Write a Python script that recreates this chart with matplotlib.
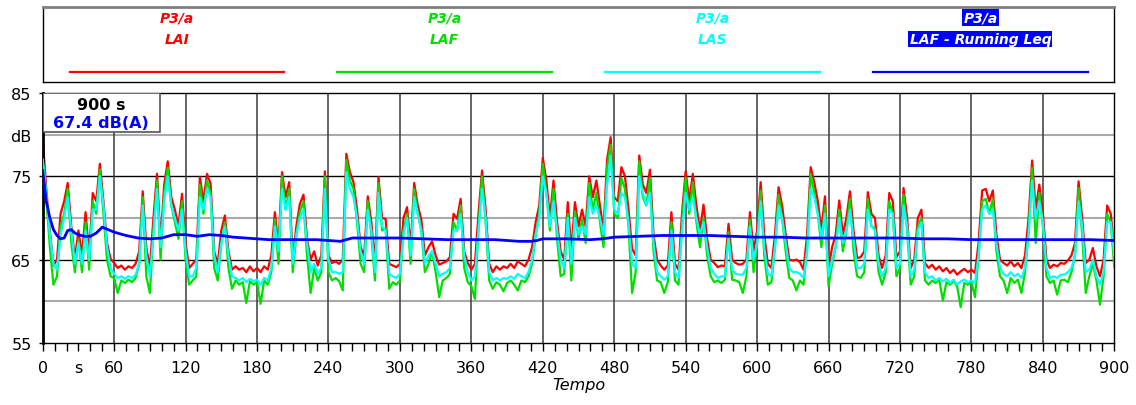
import matplotlib
matplotlib.use("Agg")
import matplotlib.pyplot as plt
import numpy as np
from matplotlib.patches import Rectangle

# --- data (one value every 3 s, 0..900 s) ---
tempo = np.arange(0, 901, 3)

lai = [
    79.5, 73.5, 68.5, 64.3, 65.0, 70.5, 72.0, 74.2, 69.0, 65.1,
    68.5, 65.5, 70.7, 65.5, 73.0, 72.0, 76.5, 72.0, 67.0, 65.1,
    64.6, 64.0, 64.3, 63.8, 64.2, 64.0, 64.5, 66.0, 73.2, 66.5,
    64.0, 70.0, 75.3, 67.0, 74.0, 76.8, 72.5, 71.0, 69.0, 72.9,
    67.0, 64.0, 64.5, 65.0, 74.9, 72.0, 75.3, 74.1, 66.0, 64.5,
    68.5, 70.3, 66.0, 63.8, 64.2, 63.8, 64.0, 63.5, 64.2, 63.6,
    64.0, 63.5, 64.2, 63.8, 65.5, 70.7, 66.5, 75.5, 72.5, 74.3,
    65.0, 69.0, 71.7, 72.8, 67.5, 65.0, 66.0, 64.3, 65.5, 75.6,
    65.5, 64.6, 64.8, 64.5, 65.0, 77.7, 75.5, 74.3, 71.0, 66.5,
    65.5, 72.6, 69.5, 64.6, 74.9, 70.0, 69.9, 64.5, 64.3, 64.1,
    64.5, 70.0, 71.3, 66.5, 74.2, 71.5, 69.8, 65.5, 66.5, 67.2,
    65.5, 64.4, 64.6, 64.8, 65.3, 70.5, 69.9, 72.3, 66.0, 64.6,
    63.8, 64.5, 70.5, 75.7, 71.0, 64.5, 63.5, 64.2, 63.8, 64.2,
    64.0, 64.5, 64.0, 64.8, 64.5, 64.2, 65.0, 66.5, 69.5, 71.5,
    77.2, 74.5, 70.0, 74.5, 69.5, 66.0, 65.0, 71.9, 66.0, 71.9,
    69.0, 71.0, 69.0, 75.0, 72.5, 74.5, 71.5, 68.5, 77.0, 79.7,
    72.5, 72.0, 76.1, 75.0, 71.0, 66.3, 65.5, 77.5, 74.0, 73.0,
    75.8, 68.0, 65.0, 64.3, 63.8, 64.3, 70.7, 64.5, 63.8, 70.7,
    75.6, 72.0, 75.3, 71.5, 68.5, 71.6, 67.5, 65.0, 64.6, 64.1,
    64.3, 64.2, 69.3, 65.0, 64.6, 64.4, 64.5, 65.0, 70.7, 66.0,
    68.5, 74.3, 68.0, 64.5, 64.0, 68.0, 73.7, 71.5, 68.0, 65.0,
    64.9, 65.0, 64.7, 63.8, 68.0, 76.1, 74.3, 72.0, 68.5, 72.6,
    64.0, 66.5, 68.0, 72.1, 68.0, 70.0, 73.2, 68.5, 65.2, 65.3,
    66.0, 73.1, 70.5, 70.0, 65.5, 64.0, 65.5, 73.0, 72.0, 65.3,
    66.0, 73.6, 70.0, 64.0, 65.0, 70.0, 71.0, 64.6, 64.0, 64.4,
    63.8, 64.2, 63.6, 64.0, 63.4, 63.8, 63.2, 63.6, 63.9, 63.5,
    63.8, 63.4, 67.0, 73.3, 73.5, 72.0, 73.3, 68.0, 65.0, 64.6,
    64.3, 64.8, 64.2, 64.6, 64.0, 65.5, 70.0, 76.9, 71.0, 74.0,
    70.7, 65.0, 64.0, 64.4, 64.2, 64.6, 64.5, 64.9, 65.5, 67.0,
    74.4, 70.0, 64.6, 65.0, 66.4, 64.2, 63.0, 65.0, 71.5, 70.5,
    66.2,
]

laf = [
    77.0, 72.5, 66.5, 62.0, 63.0, 69.0, 70.5, 73.5, 67.0, 63.5,
    67.5, 63.5, 69.5, 63.8, 72.0, 70.5, 75.8, 70.5, 65.0, 63.0,
    62.8, 61.0, 62.5, 62.2, 62.6, 62.3, 62.8, 64.5, 72.5, 63.0,
    61.0, 68.5, 74.5, 65.0, 73.0, 76.0, 71.5, 69.5, 67.5, 72.0,
    65.0, 62.0, 62.5, 63.0, 74.0, 70.5, 74.5, 73.0, 64.0, 62.5,
    67.0, 69.5, 64.0, 61.5, 62.5, 62.0, 62.3, 59.8, 62.4, 62.0,
    62.3, 59.7, 62.5, 62.0, 63.5, 69.8, 64.5, 75.0, 71.0, 73.5,
    63.5, 68.0, 70.8, 72.0, 65.5, 61.0, 64.0, 62.5, 63.5, 75.0,
    63.5, 62.5, 62.8, 62.4, 61.3, 77.0, 74.5, 73.5, 69.5, 64.5,
    63.5, 72.0, 68.0, 62.5, 74.2, 68.5, 68.8, 61.5, 62.3, 62.0,
    62.5, 68.5, 70.5, 64.5, 73.5, 70.5, 68.5, 63.5, 64.5, 66.0,
    63.5, 60.5, 62.5, 62.8, 63.3, 69.5, 68.5, 71.5, 64.0, 62.3,
    61.8, 60.3, 69.0, 75.0, 69.5, 62.5, 61.5, 62.3, 62.0, 61.2,
    62.2, 62.5, 62.0, 61.3, 62.5, 62.3, 63.0, 64.5, 68.0, 70.5,
    76.5, 73.0, 68.5, 73.5, 67.5, 63.0, 63.3, 70.5, 62.5, 70.8,
    67.5, 69.8, 67.0, 74.2, 71.0, 73.0, 69.5, 66.5, 76.0, 78.8,
    70.5, 70.0, 74.8, 73.5, 69.0, 61.0, 63.5, 76.8, 72.5, 71.5,
    74.8, 66.0, 62.5, 62.3, 61.0, 62.3, 69.5, 62.5, 62.0, 69.5,
    74.8, 70.5, 74.3, 69.5, 66.5, 70.0, 65.5, 63.0, 62.3, 62.5,
    62.2, 62.6, 68.3, 62.6, 62.5, 62.3, 61.0, 63.0, 69.8, 63.5,
    67.0, 73.3, 65.5, 62.0, 62.3, 66.5, 72.8, 70.0, 66.0, 62.8,
    62.5, 61.3, 62.5, 62.0, 66.5, 75.3, 73.0, 70.5, 66.5, 71.5,
    61.8, 64.5, 66.5, 71.0, 66.0, 68.5, 72.3, 66.0, 63.0, 62.8,
    63.5, 72.3, 69.0, 68.8, 63.5, 62.0, 63.5, 72.0, 70.5, 63.0,
    64.0, 72.8, 68.5, 62.0, 63.0, 69.0, 70.0, 62.5, 62.0, 62.5,
    62.2, 62.6, 60.1, 62.3, 62.0, 62.4, 61.8, 59.3, 62.2, 62.0,
    62.3, 60.5, 65.5, 72.0, 72.3, 70.5, 72.3, 66.0, 63.0, 62.5,
    61.0, 62.8, 62.2, 62.6, 61.0, 63.5, 68.5, 76.0, 67.0, 73.0,
    69.0, 63.0, 62.2, 62.5, 60.8, 62.5, 62.6, 62.3, 63.5, 65.5,
    73.6, 68.0, 61.0, 63.0, 64.5, 62.5, 59.6, 63.0, 70.5, 69.5,
    64.1,
]

las = [
    77.0, 73.0, 68.0, 64.5, 63.8, 68.0, 70.0, 72.5, 68.5, 64.5,
    67.0, 64.5, 68.5, 65.0, 71.0, 71.0, 75.0, 71.5, 66.5, 64.0,
    63.3, 62.8, 63.0, 62.7, 63.0, 62.8, 63.2, 64.5, 71.5, 65.5,
    63.0, 68.0, 73.5, 66.5, 72.0, 75.0, 71.5, 70.0, 68.5, 71.0,
    66.0, 63.0, 63.0, 64.0, 72.5, 71.0, 73.5, 72.5, 65.5, 63.5,
    67.0, 69.0, 65.5, 63.0, 62.8, 62.5, 62.8, 62.3, 62.7, 62.4,
    62.6, 62.0, 62.8, 62.5, 64.0, 69.0, 66.0, 73.5, 71.0, 72.5,
    64.5, 68.0, 70.0, 71.0, 67.0, 63.5, 64.5, 63.3, 64.0, 73.5,
    65.0, 63.5, 63.5, 63.3, 63.5, 75.5, 73.5, 72.5, 70.0, 66.0,
    64.5, 71.0, 68.5, 63.5, 73.0, 69.0, 68.5, 63.3, 63.0, 62.8,
    63.3, 68.0, 70.0, 65.5, 72.5, 70.5, 68.5, 64.5, 65.5, 66.0,
    64.5, 63.0, 63.3, 63.5, 64.0, 68.5, 68.5, 70.5, 65.5, 63.5,
    62.5, 63.0, 68.5, 73.5, 70.0, 63.5, 62.5, 62.8, 62.5, 62.8,
    62.7, 63.0, 62.7, 63.3, 63.0, 62.8, 63.5, 65.0, 68.0, 70.0,
    75.0, 73.0, 69.0, 72.0, 68.5, 65.0, 64.0, 70.0, 64.5, 70.0,
    68.0, 69.0, 68.0, 72.5, 70.5, 71.5, 70.0, 68.0, 74.0, 77.5,
    71.0, 70.5, 73.0, 72.5, 69.5, 64.5, 64.0, 75.0, 73.0, 71.5,
    73.0, 67.0, 63.5, 63.0, 62.6, 63.0, 68.5, 63.5, 62.8, 68.5,
    73.0, 71.0, 72.5, 70.0, 68.0, 69.5, 66.5, 64.0, 63.3, 62.8,
    63.0, 63.0, 67.5, 63.8, 63.3, 63.2, 63.2, 64.0, 69.0, 65.0,
    67.0, 72.0, 66.5, 63.3, 63.0, 66.5, 71.5, 70.0, 67.0, 64.0,
    63.5, 63.5, 63.3, 62.8, 66.0, 73.5, 72.5, 70.5, 67.5, 70.5,
    63.0, 65.0, 66.5, 70.0, 67.0, 68.5, 71.0, 67.5, 64.0, 64.0,
    64.5, 71.0, 69.0, 68.5, 64.5, 63.0, 64.0, 71.0, 70.5, 64.0,
    64.5, 71.5, 69.0, 63.0, 63.8, 68.5, 69.5, 63.5, 62.8, 63.0,
    62.5, 62.8, 62.4, 62.7, 62.2, 62.6, 62.0, 62.4, 62.6, 62.3,
    62.5, 62.2, 65.5, 71.0, 71.5, 70.5, 71.0, 67.0, 64.0, 63.3,
    63.0, 63.5, 63.0, 63.3, 62.8, 64.0, 68.0, 74.5, 70.0, 72.0,
    69.5, 64.0, 62.8, 63.0, 62.8, 63.2, 63.2, 63.5, 64.0, 65.5,
    72.0, 69.0, 63.5, 63.8, 65.0, 63.0, 62.0, 63.5, 69.5, 69.5,
    65.5,
]

# running Leq of LAF
leq_t = [0, 3, 6, 9, 12, 15, 18, 21, 24, 27, 30, 35, 40, 45, 50, 55, 60, 70, 80, 90,
         100, 110, 120, 130, 140, 150, 160, 170, 180, 190, 200, 210, 220, 230, 240, 250,
         255, 260, 270, 280, 300, 320, 340, 360, 380, 400, 410, 415, 420, 440, 460, 470,
         480, 500, 520, 540, 560, 580, 600, 620, 640, 660, 680, 700, 720, 740, 760, 780,
         800, 820, 840, 860, 880, 900]
leq = [75.7, 72.0, 70.0, 68.6, 67.9, 67.5, 67.6, 68.5, 68.6, 68.2, 68.0, 67.8, 67.8, 68.2,
       68.9, 68.6, 68.3, 67.9, 67.6, 67.5, 67.6, 68.0, 68.0, 67.8, 68.0, 67.9, 67.7, 67.6,
       67.5, 67.4, 67.4, 67.4, 67.4, 67.4, 67.3, 67.2, 67.4, 67.6, 67.6, 67.6, 67.6, 67.5,
       67.4, 67.4, 67.4, 67.2, 67.2, 67.3, 67.5, 67.5, 67.4, 67.5, 67.7, 67.8, 67.9, 67.9,
       67.9, 67.8, 67.7, 67.7, 67.6, 67.6, 67.6, 67.6, 67.6, 67.5, 67.5, 67.4, 67.4, 67.4,
       67.4, 67.4, 67.4, 67.3]

series = [("LAI", lai, "#ff0000"), ("LAF", laf, "#00e000"),
          ("LAS", las, "#00ffff"), ("LAF - Running Leq", leq, "#0000ff")]

xticks = list(range(0, 901, 60))
xticklabels = [str(v) for v in xticks]

fig = plt.figure(figsize=(11.36, 4.06), dpi=100)
fig.patch.set_facecolor("white")

# --- legend box on top ---
lax = fig.add_axes([0.0376, 0.7956, 0.9433, 0.1847])
lax.set_xlim(0, 4)
lax.set_ylim(0, 1)
lax.set_xticks([])
lax.set_yticks([])
for side in ["left", "right", "bottom"]:
    lax.spines[side].set_color("black")
    lax.spines[side].set_linewidth(1)
lax.spines["top"].set_color("#808080")
lax.spines["top"].set_linewidth(2)
for i, (name, vals, col) in enumerate(series):
    cx = i + 0.5
    if i == 3:
        kw = dict(color="white", bbox=dict(facecolor="#0000ff", edgecolor="none", pad=0.8))
    else:
        kw = dict(color=col)
    lax.text(cx, 0.86, "P3/a", ha="center", va="center", fontsize=10,
             fontweight="bold", fontstyle="italic", **kw)
    lax.text(cx, 0.57, name, ha="center", va="center", fontsize=10,
             fontweight="bold", fontstyle="italic", **kw)
    lax.plot([cx - 0.4, cx + 0.4], [0.135, 0.135], color=col, lw=1.6)

# --- main chart ---
ax = fig.add_axes([0.0376, 0.1527, 0.9433, 0.6158])
ax.set_xlim(0, 900)
ax.set_ylim(55, 85)

for y in [60, 70, 80]:
    ax.axhline(y, color="#aaaaaa", lw=1.5, zorder=1)
for y in [65, 75]:
    ax.axhline(y, color="black", lw=1, zorder=1)
for x in xticks[1:-1]:
    ax.axvline(x, color="#3a3a3a", lw=1.1, zorder=1)

ax.plot(tempo, lai, color="#ff0000", lw=1.6, zorder=2)
ax.plot(tempo, laf, color="#00e000", lw=1.6, zorder=3)
ax.plot(tempo, las, color="#00ffff", lw=1.6, zorder=4)
ax.plot(leq_t, leq, color="#0000ff", lw=2.0, zorder=5)

ax.set_xticks(xticks)
ax.set_xticklabels(xticklabels)
ax.set_xticks(range(0, 901, 10), minor=True)
ax.tick_params(axis="x", which="major", direction="out", length=6, width=1,
               labelsize=11.5, pad=6)
ax.tick_params(axis="x", which="minor", direction="out", length=6, width=1)
ax.set_yticks([55, 65, 75, 80, 85])
ax.set_yticklabels(["55", "65", "75", "dB", "85"])
ax.tick_params(axis="y", which="major", direction="out", length=3, width=1,
               labelsize=11.5, pad=5)
ax.yaxis.get_major_ticks()[3].tick1line.set_visible(False)
# unit label sitting among the x tick labels
ax.annotate("s", xy=(30, 0), xycoords=("data", "axes fraction"),
            xytext=(0, -12), textcoords="offset points",
            ha="center", va="top", fontsize=11.5)

ax.set_xlabel("Tempo", fontsize=11.5, fontstyle="italic", labelpad=2)

for side in ["top", "right", "bottom"]:
    ax.spines[side].set_color("black")
    ax.spines[side].set_linewidth(1)
ax.spines["left"].set_linewidth(2)

# value box in the upper left corner
ax.add_patch(Rectangle((0, 0.844), 0.1095, 0.156, transform=ax.transAxes,
                       facecolor="white", edgecolor="#555555", lw=1.2, zorder=6))
ax.text(0.0547, 0.955, "900 s", transform=ax.transAxes, ha="center", va="center",
        fontsize=11.5, fontweight="bold", color="black", zorder=7)
ax.text(0.0547, 0.88, "67.4 dB(A)", transform=ax.transAxes, ha="center", va="center",
        fontsize=11.5, fontweight="bold", color="#0000ff", zorder=7)

fig.savefig("out.png", dpi=100)
